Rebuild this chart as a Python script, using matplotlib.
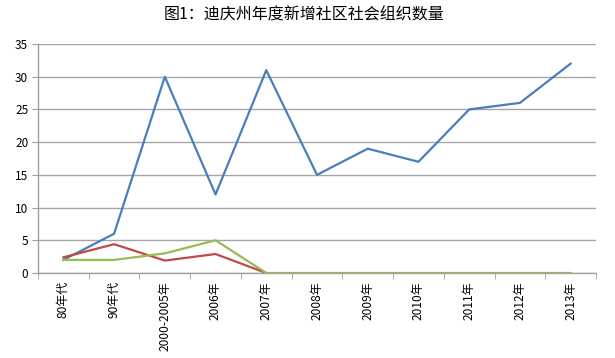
import matplotlib.pyplot as plt
import numpy as np

plt.rcParams['font.family'] = ['Noto Sans CJK SC', 'DejaVu Sans']

categories = ['80年代', '90年代', '2000-2005年', '2006年', '2007年', '2008年',
              '2009年', '2010年', '2011年', '2012年', '2013年']
blue_vals = [2, 6, 30, 12, 31, 15, 19, 17, 25, 26, 32]
red_vals = [2.4, 4.4, 1.9, 2.9, 0, None, None, None, None, None, None]
green_vals = [2, 2, 3, 5, 0, 0, 0, 0, 0, 0, 0]

fig = plt.figure(figsize=(6.15, 3.58), dpi=100)
ax = fig.add_axes([38 / 615, 1 - 273 / 358, (596 - 38) / 615, (273 - 44) / 358])

x = np.arange(len(categories))
red = np.array([np.nan if v is None else v for v in red_vals], dtype=float)
ax.plot(x, blue_vals, color='#4a7ebb', lw=1.6, zorder=3)
ax.plot(x, red, color='#be4b48', lw=1.6, zorder=3)
ax.plot(x, green_vals, color='#98b954', lw=1.6, zorder=3)

ax.set_xlim(-0.5, len(categories) - 0.5)
ax.set_ylim(0, 35)
ax.set_yticks(range(0, 36, 5))
ax.yaxis.grid(True, color='#a6a6a6', lw=1)
ax.set_axisbelow(True)

ax.set_xticks(x)
ax.set_xticklabels(categories, rotation=90, fontsize=8.6)
ax.set_xticks(np.arange(-0.5, len(categories), 1), minor=True)
ax.tick_params(axis='x', which='major', length=0, pad=6)
ax.tick_params(axis='x', which='minor', length=4, color='#a0a0a0', direction='out')
ax.tick_params(axis='y', length=4, color='#a0a0a0', labelsize=8.5, pad=3)

for s in ['top', 'right']:
    ax.spines[s].set_visible(False)
for s in ['left', 'bottom']:
    ax.spines[s].set_color('#a0a0a0')
    ax.spines[s].set_linewidth(1)

fig.text(304 / 615, 1 - 15 / 358, '图1：迪庆州年度新增社区社会组织数量', ha='center', va='center', fontsize=11.5)

fig.savefig('out.png', dpi=100)
